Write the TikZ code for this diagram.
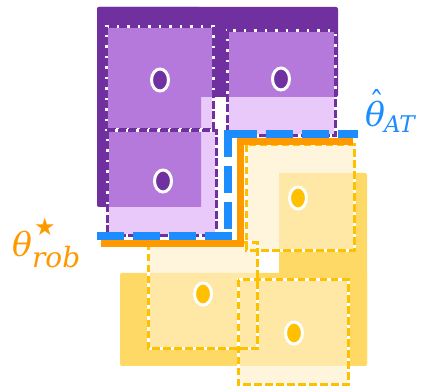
\documentclass[tikz,border=0pt]{standalone}
\usepackage{fontspec}
\newfontfamily\lblfont{DejaVu Serif}
\newfontfamily\symfont{DejaVu Sans}

\definecolor{dpurple}{RGB}{112,48,160}
\definecolor{mpurple}{RGB}{180,121,219}
\definecolor{lpurple}{RGB}{233,201,250}
\definecolor{atblue}{RGB}{28,140,255}
\definecolor{roborange}{RGB}{255,153,0}
\definecolor{dgold}{RGB}{255,217,102}
\definecolor{mgold}{RGB}{255,231,166}
\definecolor{lgold}{RGB}{255,245,221}
\definecolor{gold}{RGB}{255,192,0}

\tikzset{
  pborder/.style={dpurple, line width=3pt, dash pattern=on 8pt off 2.5pt},
  yborder/.style={gold, line width=3pt, dash pattern=on 7.5pt off 3.5pt},
  underline/.style={white, line width=3pt},
  pdot/.style={fill=dpurple, draw=white, line width=3pt},
  ydot/.style={fill=gold, draw=white, line width=3pt},
  atline/.style={atblue, line width=8.5pt, dash pattern=on 27pt off 9pt},
  robline/.style={roborange, line width=7.5pt, miter limit=4},
  lbl/.style={inner sep=0pt, anchor=base west},
}

\begin{document}
\begin{tikzpicture}[x=1pt,y=-1pt]
\useasboundingbox (0,0) rectangle (424,387);

% ---------- purple zone ----------
\fill[dpurple, rounded corners=2pt] (97,7) rectangle (338,97);
\fill[dpurple, rounded corners=2pt] (97,7) rectangle (201,207);

\foreach \a/\b/\c/\d in {106/27/213/130, 227/31/335/136, 107/131/216/236}
  \fill[lpurple] (\a,\b) rectangle (\c,\d);
\begin{scope}
  \clip (97,7) rectangle (338,97) (97,7) rectangle (201,207);
  \foreach \a/\b/\c/\d in {106/27/213/130, 227/31/335/136, 107/131/216/236}
    \fill[mpurple] (\a,\b) rectangle (\c,\d);
\end{scope}
\foreach \a/\b/\c/\d in {106/27/213/130, 227/31/335/136, 107/131/216/236} {
  \draw[underline] (\a,\b) rectangle (\c,\d);
  \draw[pborder] (\a,\b) rectangle (\c,\d);
}
\draw[pdot] (160,80) ellipse [x radius=8.5, y radius=11];
\draw[pdot] (281,79) ellipse [x radius=8.5, y radius=11];
\draw[pdot] (163,181) ellipse [x radius=8.5, y radius=11];

% ---------- gold zone ----------
\fill[dgold, rounded corners=2pt] (279,173) rectangle (367,366);
\fill[dgold, rounded corners=2pt] (120,273) rectangle (367,366);

\foreach \a/\b/\c/\d in {246/145/354/251, 148/243/257/349, 238/280/348/385}
  \fill[lgold] (\a,\b) rectangle (\c,\d);
\begin{scope}
  \clip (279,173) rectangle (367,366) (120,273) rectangle (367,366);
  \foreach \a/\b/\c/\d in {246/145/354/251, 148/243/257/349, 238/280/348/385}
    \fill[mgold] (\a,\b) rectangle (\c,\d);
\end{scope}
\foreach \a/\b/\c/\d in {246/145/354/251, 148/243/257/349, 238/280/348/385} {
  \draw[underline] (\a,\b) rectangle (\c,\d);
  \draw[yborder] (\a,\b) rectangle (\c,\d);
}
\draw[ydot] (298,198) ellipse [x radius=8.5, y radius=11];
\draw[ydot] (203,294) ellipse [x radius=8.5, y radius=11];
\draw[ydot] (294,333) ellipse [x radius=8.5, y radius=11];

% ---------- boundaries ----------
\coordinate (r0) at (101,243.5);
\coordinate (r1) at (240.5,243.5);
\coordinate (r2) at (240.5,141.5);
\coordinate (r3) at (353,141.5);
\draw[robline] (r0) -- (r1) -- (r2) -- (r3);

\coordinate (a0) at (97,236);
\coordinate (a1) at (232,236);
\coordinate (a2) at (228,130);
\coordinate (a3) at (228,229);
\coordinate (a4) at (230,134);
\coordinate (a5) at (358,134);
\draw[atline] (a0) -- (a1);
\draw[atline] (a2) -- (a3);
\draw[atline] (a4) -- (a5);

% ---------- labels ----------
\node[lbl, text=atblue] (thetaAT) at (365,127)
  {\fontsize{33}{33}\selectfont\lblfont
   \rlap{\kern4pt\raisebox{13pt}{\fontsize{30}{30}\selectfont ˆ}}%
   \itshape θ\kern-1pt\raisebox{-6pt}{\fontsize{23}{23}\selectfont AT}};

\node[lbl, text=roborange] (thetarob) at (12,257)
  {\fontsize{33}{33}\selectfont\lblfont\itshape θ%
   \rlap{\kern2pt\raisebox{21pt}{\fontsize{24}{24}\selectfont\symfont ★}}%
   \raisebox{-11pt}{\fontsize{28}{28}\selectfont rob}};
\end{tikzpicture}
\end{document}
